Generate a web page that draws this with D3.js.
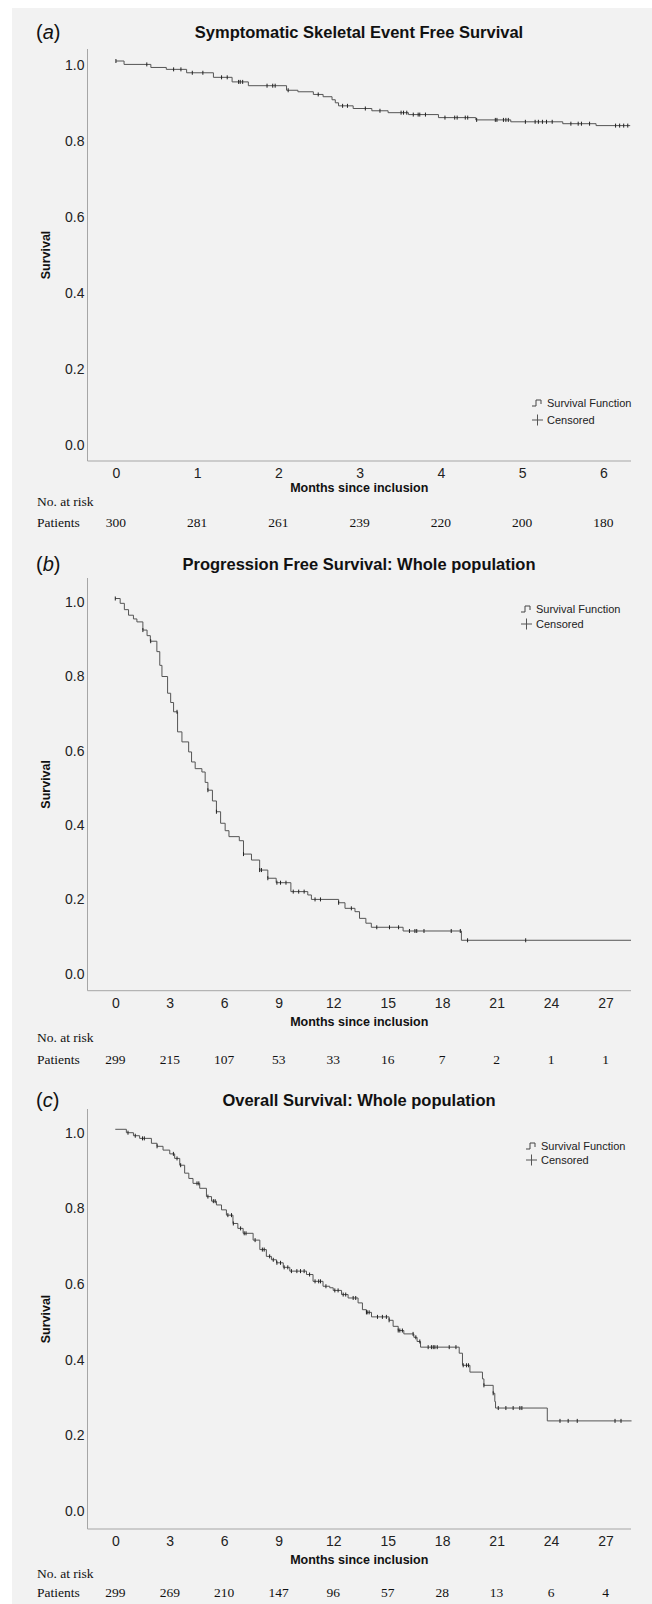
<!DOCTYPE html>
<html>
<head>
<meta charset="utf-8">
<script src="https://cdn.jsdelivr.net/npm/d3@7"></script>
<style>
  body { margin: 0; background: #fff; }
  svg { display: block; }
</style>
</head>
<body>
<div id="chart"></div>
<script>
// ---- Data ----

// (a) Symptomatic skeletal event free survival: step times (months) and survival after each step
const sseTimes = [0, 0.10, 0.43, 0.62, 0.87, 1.20, 1.43, 1.63, 2.10, 2.24, 2.43, 2.55, 2.66, 2.70, 2.74, 2.92, 3.15, 3.35, 3.60, 3.97, 4.43, 4.86, 5.50, 5.91];
const sseSurv  = [1.0, 0.991, 0.983, 0.978, 0.969, 0.957, 0.945, 0.935, 0.923, 0.919, 0.912, 0.906, 0.898, 0.890, 0.882, 0.875, 0.869, 0.864, 0.859, 0.851, 0.845, 0.840, 0.835, 0.830];
const sseEnd = 6.33;
const sseCensored = [0, 0.38, 0.71, 0.80, 0.94, 1.07, 1.30, 1.37, 1.51, 1.53, 1.56, 1.86, 1.93, 1.96, 2.12, 2.49, 2.79, 2.85,
  3.07, 3.25, 3.51, 3.54, 3.58, 3.66, 3.72, 3.74, 3.81, 4.05, 4.17, 4.20, 4.30, 4.33, 4.44, 4.67, 4.69, 4.77, 4.80, 4.83,
  5.04, 5.16, 5.20, 5.25, 5.30, 5.37, 5.60, 5.69, 5.73, 5.83, 6.15, 6.20, 6.25, 6.30];
const sseTicks = [0, 1, 2, 3, 4, 5, 6];
const sseAtRisk = [300, 281, 261, 239, 220, 200, 180];

// (b) Progression free survival
const pfsTimes = [0, 0.27, 0.50, 0.73, 1.00, 1.19, 1.52, 1.75, 1.93, 2.29, 2.45, 2.57, 2.88, 3.05, 3.21, 3.43, 3.67, 4.04, 4.20,
  4.40, 4.77, 4.95, 5.10, 5.35, 5.57, 5.80, 6.05, 6.26, 6.83, 7.06, 7.50, 7.95, 8.40, 8.86, 9.67, 10.6, 10.8, 12.3, 12.65,
  13.2, 13.45, 13.8, 14.1, 15.85, 19.06];
const pfsSurv  = [1.0, 0.987, 0.970, 0.955, 0.945, 0.937, 0.915, 0.900, 0.885, 0.857, 0.820, 0.790, 0.745, 0.720, 0.695, 0.641, 0.614, 0.587, 0.560,
  0.542, 0.533, 0.505, 0.484, 0.455, 0.426, 0.395, 0.375, 0.359, 0.348, 0.312, 0.296, 0.269, 0.247, 0.235, 0.211, 0.202, 0.190, 0.181, 0.166,
  0.157, 0.139, 0.126, 0.115, 0.105, 0.080];
const pfsEnd = 28.4;
const pfsCensored = [0, 1.52, 1.95, 3.40, 5.10, 5.57, 7.06, 7.95, 8.05, 8.40, 8.90, 9.10, 9.40, 9.80, 10.1, 10.4, 11.0, 11.3,
  12.3, 13.0, 14.4, 15.1, 15.6, 16.2, 16.5, 16.6, 17.0, 18.5, 19.0, 19.4, 22.6];
const monthTicks = [0, 3, 6, 9, 12, 15, 18, 21, 24, 27];
const pfsAtRisk = [299, 215, 107, 53, 33, 16, 7, 2, 1, 1];

// (c) Overall survival
const osTimes = [0, 0.61, 1.00, 1.34, 1.99, 2.30, 2.63, 3.00, 3.27, 3.55, 3.82, 4.05, 4.28, 4.65, 5.02, 5.30, 5.57, 5.85, 6.12,
  6.48, 6.75, 7.04, 7.59, 7.96, 8.32, 8.60, 8.88, 9.25, 9.61, 10.53, 10.89, 11.44, 11.81, 12.0, 12.46, 12.82, 13.37, 13.61,
  13.83, 14.11, 15.08, 15.30, 15.58, 15.89, 16.44, 16.62, 16.81, 18.94, 19.12, 19.53, 20.22, 20.30, 20.81, 20.90, 20.94, 23.79];
const osSurv  = [1.0, 0.991, 0.983, 0.976, 0.963, 0.955, 0.945, 0.935, 0.923, 0.905, 0.884, 0.870, 0.857, 0.844, 0.822, 0.810, 0.800, 0.787, 0.773,
  0.751, 0.738, 0.725, 0.707, 0.682, 0.664, 0.655, 0.647, 0.635, 0.625, 0.616, 0.598, 0.585, 0.581, 0.574, 0.563, 0.554, 0.541, 0.523,
  0.516, 0.504, 0.495, 0.479, 0.468, 0.459, 0.450, 0.439, 0.424, 0.408, 0.376, 0.358, 0.340, 0.323, 0.302, 0.280, 0.263, 0.229];
const osEnd = 28.43;
const osCensored = [0.7, 1.1, 1.5, 1.6, 2.3, 3.2, 3.4, 3.6, 4.5, 4.6, 5.1, 5.4, 5.5, 6.2, 6.4, 6.5, 6.9, 7.1, 7.2, 7.7, 8.1, 8.2,
  8.5, 8.7, 8.9, 9.1, 9.3, 9.5, 9.7, 10.0, 10.2, 10.4, 10.7, 11.0, 11.2, 11.3, 11.6,
  12.09, 12.27, 12.55, 12.69, 13.1, 13.24, 13.83, 13.87, 13.98, 14.44, 14.71, 14.93, 15.08, 15.58, 15.67, 15.81, 16.4, 16.55,
  16.77, 17.23, 17.41, 17.51, 17.6, 17.73, 18.39, 18.76, 19.16, 19.34, 19.45, 20.3, 20.81, 21.09, 21.51, 21.91, 22.28, 22.39,
  24.49, 24.94, 25.44, 27.52, 27.85];
const osAtRisk = [299, 269, 210, 147, 96, 57, 28, 13, 6, 4];

const survivalTicks = [0, 0.2, 0.4, 0.6, 0.8, 1.0];
const panelLetters = ['a', 'b', 'c'];
const panelTitles = ['Symptomatic Skeletal Event Free Survival', 'Progression Free Survival: Whole population', 'Overall Survival: Whole population'];
const legendLabels = ['Survival Function', 'Censored'];

// ---- Layout ----
const width = 652, height = 1604;
const plotLeft = 87.5, plotRight = 631;
const sans = '"Liberation Sans", Arial, sans-serif';
const serif = '"Liberation Serif", "Times New Roman", serif';

const panels = [
  { times: sseTimes, surv: sseSurv, end: sseEnd, censored: sseCensored, ticks: sseTicks, atRisk: sseAtRisk,
    xDomain: [-0.35, 6.34], titleY: 32, axisTop: 49, yZero: 441, yOne: 61, axisBottom: 461,
    xTitleY: 488, riskHeadY: 501, riskRowY: 522, legendX: 532, legendY: 403, legendGap: 17 },
  { times: pfsTimes, surv: pfsSurv, end: pfsEnd, censored: pfsCensored, ticks: monthTicks, atRisk: pfsAtRisk,
    xDomain: [-1.53, 28.4], titleY: 564, axisTop: 578, yZero: 970, yOne: 598.5, axisBottom: 990.7,
    xTitleY: 1022, riskHeadY: 1037, riskRowY: 1059, legendX: 521, legendY: 609, legendGap: 15 },
  { times: osTimes, surv: osSurv, end: osEnd, censored: osCensored, ticks: monthTicks, atRisk: osAtRisk,
    xDomain: [-1.53, 28.4], titleY: 1100, axisTop: 1109, yZero: 1507.5, yOne: 1129.3, axisBottom: 1529,
    xTitleY: 1560, riskHeadY: 1573, riskRowY: 1592, legendX: 526, legendY: 1146, legendGap: 14 }
];

const svg = d3.select('#chart')
  .append('svg')
  .attr('width', width)
  .attr('height', height)
  .attr('viewBox', [0, 0, width, height]);

// grey SPSS-style background
svg.append('rect')
  .attr('x', 12).attr('y', 8)
  .attr('width', width - 12).attr('height', height - 8)
  .attr('fill', '#f2f2f2');

panels.forEach((p, k) => {
  const g = svg.append('g');

  const x = d3.scaleLinear().domain(p.xDomain).range([plotLeft, plotRight]);
  const y = d3.scaleLinear().domain([0, 1]).range([p.yZero, p.yOne]);

  // panel letter, with italic letter
  const letter = g.append('text')
    .attr('x', 36).attr('y', p.titleY)
    .attr('dominant-baseline', 'central')
    .attr('font-family', sans).attr('font-size', 20).attr('fill', '#111');
  letter.append('tspan').text('(');
  letter.append('tspan').attr('font-style', 'italic').text(panelLetters[k]);
  letter.append('tspan').text(')');

  // title
  g.append('text')
    .attr('x', 359).attr('y', p.titleY)
    .attr('text-anchor', 'middle').attr('dominant-baseline', 'central')
    .attr('font-family', sans).attr('font-size', 16.5).attr('font-weight', 'bold')
    .attr('fill', '#111')
    .text(panelTitles[k]);

  // axis lines
  g.append('line')
    .attr('x1', plotLeft).attr('x2', plotLeft)
    .attr('y1', p.axisTop).attr('y2', p.axisBottom)
    .attr('stroke', '#a6a6a6').attr('stroke-width', 1);
  g.append('line')
    .attr('x1', plotLeft).attr('x2', plotRight)
    .attr('y1', p.axisBottom).attr('y2', p.axisBottom)
    .attr('stroke', '#a6a6a6').attr('stroke-width', 1);

  // y axis labels
  const yAxis = g.append('g')
    .attr('transform', `translate(${plotLeft},0)`)
    .call(d3.axisLeft(y).tickValues(survivalTicks).tickSize(0).tickPadding(3).tickFormat(d3.format('.1f')));
  yAxis.select('.domain').remove();
  yAxis.selectAll('text')
    .attr('dy', null).attr('dominant-baseline', 'central')
    .attr('transform', 'translate(0,3)')
    .attr('font-family', sans).attr('font-size', 14).attr('fill', '#222');

  // x axis labels
  const xAxis = g.append('g')
    .attr('transform', `translate(0,${p.axisBottom})`)
    .call(d3.axisBottom(x).tickValues(p.ticks).tickSize(0).tickFormat(d3.format('d')));
  xAxis.select('.domain').remove();
  xAxis.selectAll('text')
    .attr('dy', null).attr('y', 12).attr('dominant-baseline', 'central')
    .attr('font-family', sans).attr('font-size', 14).attr('fill', '#222');

  // axis titles
  g.append('text')
    .attr('x', (plotLeft + plotRight) / 2).attr('y', p.xTitleY)
    .attr('text-anchor', 'middle').attr('dominant-baseline', 'central')
    .attr('font-family', sans).attr('font-size', 12.5).attr('font-weight', 'bold').attr('fill', '#111')
    .text('Months since inclusion');
  g.append('text')
    .attr('transform', `translate(46,${(p.axisTop + p.axisBottom) / 2}) rotate(-90)`)
    .attr('text-anchor', 'middle').attr('dominant-baseline', 'central')
    .attr('font-family', sans).attr('font-size', 12.5).attr('font-weight', 'bold').attr('fill', '#111')
    .text('Survival');

  // survival step curve
  const pts = p.times.map((t, i) => [t, p.surv[i]]);
  pts.push([p.end, p.surv[p.surv.length - 1]]);
  const line = d3.line()
    .x(d => x(d[0]))
    .y(d => y(d[1]))
    .curve(d3.curveStepAfter);
  g.append('path')
    .datum(pts)
    .attr('d', line)
    .attr('fill', 'none')
    .attr('stroke', '#555')
    .attr('stroke-width', 1);

  // censored marks
  const survAt = t => p.surv[Math.max(0, d3.bisectRight(p.times, t) - 1)];
  g.append('g')
    .selectAll('line')
    .data(p.censored)
    .join('line')
    .attr('x1', d => x(d)).attr('x2', d => x(d))
    .attr('y1', d => y(survAt(d)) - 2)
    .attr('y2', d => y(survAt(d)) + 2)
    .attr('stroke', '#222')
    .attr('stroke-width', 1);

  // legend
  const lg = g.append('g').attr('transform', `translate(${p.legendX},${p.legendY})`);
  lg.append('path')
    .attr('d', 'M0,3H4V-3H9V1')
    .attr('fill', 'none').attr('stroke', '#444').attr('stroke-width', 1);
  lg.append('path')
    .attr('d', `M0,${p.legendGap}H11M5.5,${p.legendGap - 5.5}V${p.legendGap + 5.5}`)
    .attr('fill', 'none').attr('stroke', '#555').attr('stroke-width', 1);
  lg.selectAll('text')
    .data(legendLabels)
    .join('text')
    .attr('x', 15)
    .attr('y', (d, i) => i * p.legendGap)
    .attr('dominant-baseline', 'central')
    .attr('font-family', sans).attr('font-size', 11).attr('fill', '#222')
    .text(d => d);

  // number at risk table
  g.append('text')
    .attr('x', 37).attr('y', p.riskHeadY)
    .attr('dominant-baseline', 'central')
    .attr('font-family', serif).attr('font-size', 13.5).attr('fill', '#111')
    .text('No. at risk');
  g.append('text')
    .attr('x', 37).attr('y', p.riskRowY)
    .attr('dominant-baseline', 'central')
    .attr('font-family', serif).attr('font-size', 13.5).attr('fill', '#111')
    .text('Patients');
  g.append('g')
    .selectAll('text')
    .data(p.atRisk)
    .join('text')
    .attr('x', (d, i) => x(p.ticks[i]))
    .attr('y', p.riskRowY)
    .attr('text-anchor', 'middle').attr('dominant-baseline', 'central')
    .attr('font-family', serif).attr('font-size', 13.5).attr('fill', '#111')
    .text(d => d);
});
</script>
</body>
</html>
